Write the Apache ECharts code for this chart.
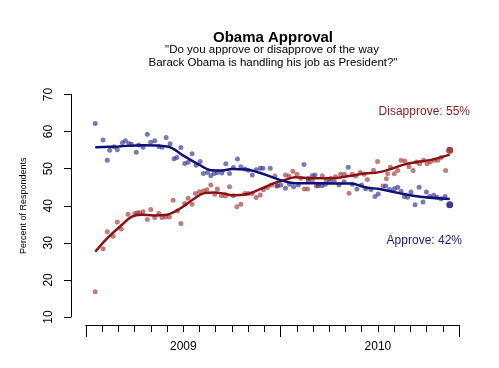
<!DOCTYPE html>
<html><head><meta charset="utf-8">
<script src="https://cdn.jsdelivr.net/npm/echarts@6/dist/echarts.min.js"></script>
<style>html,body{margin:0;padding:0;background:#fff}#c{width:499px;height:368px}</style>
</head><body><div id="c"></div>
<script>
const FONT = '"Liberation Sans", Arial, Helvetica, sans-serif';

// x values: months since 1 Jan 2009
const yearLabels = ['2009', '2010'];
const yearLabelMonths = [6, 18];

const approvePoints = [
 [0.57,62.2],[1.05,57.7],[1.31,52.3],[1.46,55],[1.73,55.9],[1.93,55.1],[2.24,57],[2.43,57.5],[2.64,56.8],[2.80,56.6],
 [3.10,54.4],[3.25,56.4],[3.52,55.8],[3.78,59.3],[3.99,57.1],[4.24,57.5],[4.49,56],[4.69,55.8],[4.94,58.4],[5.19,56.7],
 [5.43,52.7],[5.60,53],[5.85,55.7],[6.09,51.4],[6.30,51.7],[6.54,54],[6.79,50.9],[7.04,51.9],[7.24,48.7],[7.49,49],
 [7.70,48.1],[7.90,48.7],[8.10,49],[8.38,48.8],[8.62,51.3],[8.85,48.7],[9.09,50.3],[9.34,52.6],[9.55,50.5],[9.80,49.9],
 [10.0,49.6],[10.25,48.3],[10.49,49.7],[10.74,50.1],[10.91,50.1],[11.36,50.1],[11.77,45.3],[12.02,45.6],[12.30,44.7],[12.55,45.8],
 [12.80,45.1],[13.09,45.6],[13.44,51.1],[13.70,46.9],[13.95,48.1],[14.12,48.3],[14.32,45.4],[14.57,45.4],[14.77,45.8],[15.02,46.5],
 [15.31,46.5],[15.60,45.6],[15.91,46.5],[16.17,50.4],[16.42,45.8],[16.71,44.5],[16.99,45.6],[17.24,44.6],[17.57,44.4],[17.82,42.5],
 [18.02,43.2],[18.48,45.3],[18.72,44.4],[19.01,44.6],[19.22,45],[19.43,43.9],[19.63,42.5],[19.83,42.3],[20.04,43.7],[20.29,40.3],
 [20.54,45],[20.78,41],[20.99,43.7],[21.19,42.5],[21.44,42.8],[21.65,42.3],[21.90,41.9],[22.14,42.5],[22.43,40.3]
];

const disapprovePoints = [
 [0.57,16.8],[1.05,28.4],[1.31,33],[1.67,31.8],[1.93,35.6],[2.18,33.7],[2.59,37.7],[3.01,37.9],[3.17,38.1],[3.31,38.1],
 [3.52,38.4],[3.78,36.3],[3.99,39],[4.24,36.8],[4.49,37.9],[4.69,36.8],[4.90,37],[5.14,37],[5.37,41.5],[5.64,38.6],
 [5.85,35.2],[6.09,40.6],[6.30,42],[6.54,40.4],[6.75,43.3],[6.99,43.8],[7.24,44],[7.45,44.3],[7.70,45.6],[7.94,43.1],
 [8.10,44.5],[8.35,42.7],[8.60,42.6],[8.85,45.1],[9.09,42.7],[9.30,39.7],[9.55,40.4],[9.80,43.3],[10.0,43.3],[10.25,43.3],
 [10.49,42.2],[10.74,42.9],[10.94,44.3],[11.19,44.9],[11.44,45.6],[11.65,48],[11.81,45.4],[12.30,48.3],[12.51,48],[12.76,49.3],
 [13.01,48.5],[13.25,47.4],[13.46,44.5],[13.66,44.5],[13.72,47.4],[13.95,46.9],[14.20,45.3],[14.36,45.8],[14.57,48.1],[14.81,46.9],
 [15.10,47.4],[15.39,47.8],[15.70,48.5],[15.93,48.5],[16.22,43.4],[16.42,48.5],[16.62,48],[16.91,49],[17.15,48.5],[17.35,47.1],
 [17.73,49.6],[17.98,51.9],[18.31,45.3],[18.52,47.3],[18.60,48.6],[18.77,50.4],[19.01,48.6],[19.22,49.5],[19.43,52.3],[19.67,52.1],
 [19.92,50.5],[20.17,49.5],[20.37,51.8],[20.57,51.3],[20.82,52.3],[21.03,51.3],[21.23,51.8],[21.48,52.3],[21.69,52.3],[21.90,53],
 [22.18,49.5],[22.43,55]
];

const approveTrend = [
 [0.57,55.8],[2,56],[3.5,56.3],[5,56],[6,53.5],[7,51],[7.7,49.6],[8.4,49.5],[9,49.9],[9.9,49.8],
 [10.7,48.9],[11.6,47.5],[12.3,46.5],[12.9,46.1],[14.1,46.1],[15.3,46],[16.3,46],[17.3,44.9],[18.1,44.5],[19.3,43.4],
 [20.5,42.5],[22.43,41.8]
];

const disapproveTrend = [
 [0.57,27.6],[1.35,31.4],[2.2,34.8],[2.8,37],[3.4,37.6],[4.2,37.4],[5.0,37.6],[5.5,38.5],[6,39.8],[6.6,41.7],
 [7.3,43.4],[7.9,43.6],[8.5,43.3],[9.1,42.8],[9.9,43.1],[10.7,44.4],[11.6,46.1],[12.3,47],[12.9,47.7],[14.0,47.4],
 [15.2,47.4],[16.2,48],[17.2,48.7],[18.0,49],[18.8,49.9],[19.6,51.1],[20.4,51.8],[21.2,52.3],[22.43,53.8]
];

const titleText = 'Obama Approval';
const subtitleLines = ['"Do you approve or disapprove of the way', 'Barack Obama is handling his job as President?"'];
const approveLabel = 'Approve: 42%';
const disapproveLabel = 'Disapprove: 55%';

const BLUE_PT = 'rgba(50,50,150,0.82)';
const RED_PT = 'rgba(160,55,55,0.82)';
const BLUE_LN = '#0f0f78';
const RED_LN = '#8c1111';

const chart = echarts.init(document.getElementById('c'), null, {renderer: 'canvas'});
const baseX = {
  type: 'value', min: 0, max: 23, position: 'bottom', offset: 8,
  axisLine: {show: true, onZero: false, lineStyle: {color: '#000', width: 1}},
  splitLine: {show: false}, axisLabel: {show: false}
};
chart.setOption({
  animation: false,
  backgroundColor: '#fff',
  textStyle: {fontFamily: FONT},
  grid: {left: 86, right: 40, top: 94.5, bottom: 51, containLabel: false},
  xAxis: [
    Object.assign({}, baseX, {interval: 1, axisTick: {show: true, length: 7, lineStyle: {color: '#000'}}}),
    Object.assign({}, baseX, {interval: 12, axisTick: {show: true, length: 12, lineStyle: {color: '#000'}}}),
    Object.assign({}, baseX, {interval: 6, axisLine: {show: false, onZero: false}, axisTick: {show: false},
      axisLabel: {show: true, margin: 16, fontSize: 12, color: '#000', fontFamily: FONT,
        formatter: v => { const i = yearLabelMonths.indexOf(v); return i >= 0 ? yearLabels[i] : ''; }}})
  ],
  yAxis: {
    type: 'value', min: 10, max: 70, interval: 10, position: 'left', offset: 15,
    axisLine: {show: true, onZero: false, lineStyle: {color: '#000', width: 1}},
    axisTick: {show: true, length: 7, lineStyle: {color: '#000'}},
    axisLabel: {rotate: 90, margin: 16, fontSize: 12, color: '#000', fontFamily: FONT},
    splitLine: {show: false},
    name: 'Percent of Respondents', nameLocation: 'middle', nameGap: 43, nameRotate: 90,
    nameTextStyle: {fontSize: 9, color: '#000', fontFamily: FONT}
  },
  graphic: [
    {type: 'text', x: 273, y: 38, style: {text: titleText, font: 'bold 15px ' + FONT, fill: '#000', textAlign: 'center', textVerticalAlign: 'middle'}},
    {type: 'text', x: 272, y: 50, style: {text: subtitleLines[0], font: '11.5px ' + FONT, fill: '#000', textAlign: 'center', textVerticalAlign: 'middle'}},
    {type: 'text', x: 273, y: 63, style: {text: subtitleLines[1], font: '11.5px ' + FONT, fill: '#000', textAlign: 'center', textVerticalAlign: 'middle'}},
    {type: 'text', x: 470, y: 112, style: {text: disapproveLabel, font: '12px ' + FONT, fill: '#8c1a1a', textAlign: 'right', textVerticalAlign: 'middle'}},
    {type: 'text', x: 462, y: 241, style: {text: approveLabel, font: '12px ' + FONT, fill: '#1a1a82', textAlign: 'right', textVerticalAlign: 'middle'}}
  ],
  series: [
    {type: 'scatter', xAxisIndex: 0, data: disapprovePoints.slice(0, -1), symbolSize: 5, itemStyle: {color: RED_PT}},
    {type: 'scatter', xAxisIndex: 0, data: approvePoints.slice(0, -1), symbolSize: 5, itemStyle: {color: BLUE_PT}},
    {type: 'line', xAxisIndex: 0, data: disapproveTrend, smooth: 0.4, showSymbol: false, lineStyle: {color: RED_LN, width: 2.5}},
    {type: 'line', xAxisIndex: 0, data: approveTrend, smooth: 0.4, showSymbol: false, lineStyle: {color: BLUE_LN, width: 2.5}},
    {type: 'scatter', xAxisIndex: 0, data: disapprovePoints.slice(-1), symbolSize: 7, itemStyle: {color: '#8a0f0f'}},
    {type: 'scatter', xAxisIndex: 0, data: approvePoints.slice(-1), symbolSize: 7, itemStyle: {color: '#0d0d70'}}
  ]
});
</script></body></html>
